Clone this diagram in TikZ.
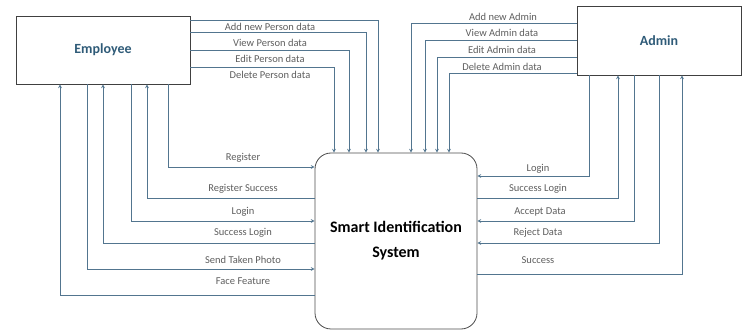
\documentclass[tikz,border=0pt]{standalone}
\usepackage{fontspec}
\setmainfont{Carlito}
\usepackage{tikz}
\usetikzlibrary{positioning,shapes,arrows}

\definecolor{flowc}{HTML}{52758F}
\definecolor{lblc}{HTML}{5E5E5E}
\definecolor{titlec}{HTML}{2F5B78}

\begin{document}
\begin{tikzpicture}[
    x=1pt, y=-1pt,
    entity/.style={
        rectangle,
        draw=black!75,
        line width=0.8pt,
        text centered,
        font=\fontsize{14}{16}\selectfont\bfseries,
        text=titlec
    },
    sysbox/.style={
        rectangle,
        draw=black!70,
        line width=0.8pt,
        rounded corners=16pt,
        minimum width=162pt,
        minimum height=176pt,
        align=center,
        font=\fontsize{16}{25}\selectfont\bfseries
    },
    lbl/.style={text=lblc, font=\fontsize{10.5}{12}\selectfont, inner sep=1pt},
    flow/.style={->, >=stealth, line width=0.7pt, draw=flowc}
]
    \useasboundingbox (0,0) rectangle (748,331);

    % Main nodes
    \node[entity, minimum width=174pt, minimum height=68pt] (emp) at (103,50) {Employee};
    \node[entity, minimum width=164pt, minimum height=69pt] (adm) at (659,40.5) {Admin};
    \node[sysbox] (sys) at (396,241) {Smart Identification\\System};

    % Employee -> system (top)
    \draw[flow] ([yshift=-5pt]emp.north east) -| ([xshift=-18pt]sys.north);
    \draw[flow] ([yshift=-17pt]emp.north east) -| ([xshift=-30pt]sys.north);
    \draw[flow] ([yshift=-35pt]emp.north east) -| ([xshift=-47pt]sys.north);
    \draw[flow] ([yshift=-52pt]emp.north east) -| ([xshift=-62pt]sys.north);
    \node[lbl] (addp) at (270,27) {Add new Person data};
    \node[lbl] (viewp) at (270,43) {View Person data};
    \node[lbl] (editp) at (270,59) {Edit Person data};
    \node[lbl] (delp) at (270,75) {Delete Person data};

    % Admin -> system (top)
    \draw[flow] ([yshift=-18pt]adm.north west) -| ([xshift=15pt]sys.north);
    \draw[flow] ([yshift=-35pt]adm.north west) -| ([xshift=29pt]sys.north);
    \draw[flow] ([yshift=-52pt]adm.north west) -| ([xshift=41pt]sys.north);
    \draw[flow] ([yshift=-68pt]adm.north west) -| ([xshift=53pt]sys.north);
    \node[lbl] (adda) at (503,17) {Add new Admin};
    \node[lbl] (viewa) at (502,33) {View Admin data};
    \node[lbl] (edita) at (502,50) {Edit Admin data};
    \node[lbl] (dela) at (502,67) {Delete Admin data};

    % Employee <-> system (left)
    \draw[flow] ([xshift=65pt]emp.south) |- ([yshift=74pt]sys.west);
    \draw[flow] ([yshift=43pt]sys.west) -| ([xshift=44pt]emp.south);
    \draw[flow] ([xshift=28pt]emp.south) |- ([yshift=20pt]sys.west);
    \draw[flow] ([yshift=-2pt]sys.west) -| (emp.south);
    \draw[flow] ([xshift=-16pt]emp.south) |- ([yshift=-28pt]sys.west);
    \draw[flow] ([yshift=-54pt]sys.west) -| ([xshift=-43pt]emp.south);
    \node[lbl] (reg) at (243,158) {Register};
    \node[lbl] (regok) at (243,189) {Register Success};
    \node[lbl] (elogin) at (243,212) {Login};
    \node[lbl] (eloginok) at (243,233) {Success Login};
    \node[lbl] (photo) at (243,260) {Send Taken Photo};
    \node[lbl] (face) at (243,281) {Face Feature};

    % Admin <-> system (right)
    \draw[flow] ([xshift=-70pt]adm.south) |- ([yshift=65pt]sys.east);
    \draw[flow] ([yshift=43pt]sys.east) -| ([xshift=-41pt]adm.south);
    \draw[flow] ([xshift=-25pt]adm.south) |- ([yshift=20pt]sys.east);
    \draw[flow] (adm.south) |- ([yshift=-2pt]sys.east);
    \draw[flow] ([yshift=-33pt]sys.east) -| ([xshift=23pt]adm.south);
    \node[lbl] (alogin) at (538,169) {Login};
    \node[lbl] (aloginok) at (538,189) {Success Login};
    \node[lbl] (accept) at (540,212) {Accept Data};
    \node[lbl] (reject) at (538,233) {Reject Data};
    \node[lbl] (success) at (538,260) {Success};
\end{tikzpicture}
\end{document}
